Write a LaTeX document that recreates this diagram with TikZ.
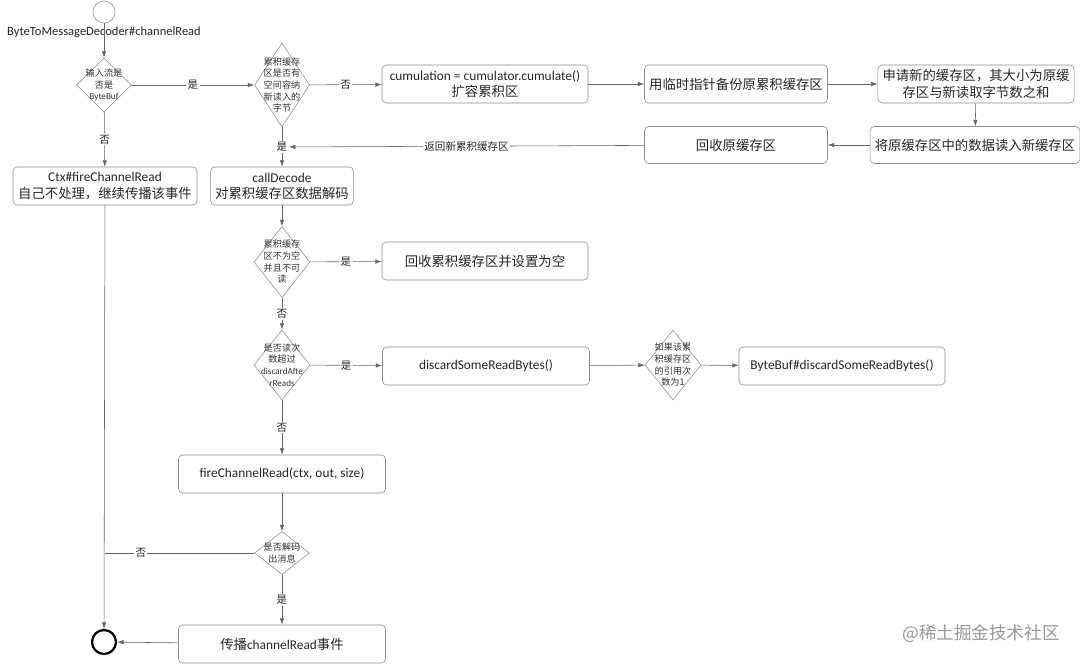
\documentclass[tikz,border=0pt]{standalone}
\usepackage{fontspec}
\setmainfont{Carlito}
\newfontfamily\zhfont{Noto Sans CJK SC}
\newcommand\en[1]{{\rmfamily #1}}
\usetikzlibrary{shapes.geometric,arrows.meta}

\tikzset{
    flow/.style={draw=black!45, rounded corners=3pt, minimum height=9.5mm, align=center,
        font=\zhfont\fontsize{9.5}{11.5}\selectfont, text=black!85},
    dec/.style={draw=black!45, diamond, inner sep=0pt},
    dtxt/.style={align=center, inner sep=0pt, font=\zhfont\fontsize{6.5}{8.3}\selectfont, text=black!80},
    lbl/.style={fill=white, inner sep=1pt, font=\zhfont\fontsize{7.5}{9}\selectfont, text=black!85},
    arr/.style={draw=black!60, -{Latex[length=1.6mm,width=1.1mm]}},
}

\begin{document}
\begin{tikzpicture}[x=0.25mm, y=-0.25mm]
            \useasboundingbox (0, 0) rectangle (1080, 664);
            % left column
            \node[circle, draw=black!45, minimum size=5.5mm, inner sep=0pt] (start) at (104, 12) {};
            \node[font=\fontsize{8.9}{10}\selectfont, text=black!85] (title) at (104, 32) {ByteToMessageDecoder\#channelRead};
            \node[dec, minimum width=13.75mm, minimum height=13.5mm] (d1) at (104, 85) {};
            \node[dtxt] (t1) at (d1) {输入流是\\否是\\\en{ByteBuf}};
            \node[flow, minimum width=46mm] (ctx) at (105, 186) {\en{Ctx\#fireChannelRead}\\自己不处理，继续传播该事件};
            \node[circle, draw=black, line width=1.6pt, minimum size=6mm, inner sep=0pt] (end) at (104, 642) {};

            % middle column
            \node[dec, minimum width=13.75mm, minimum height=21mm] (d2) at (282, 85) {};
            \node[dtxt] (t2) at (d2) {累积缓存\\区是否有\\空间容纳\\新读入的\\字节};
            \node[flow, minimum width=33.25mm] (dec) at (282, 186) {\en{callDecode}\\对累积缓存区数据解码};
            \node[dec, minimum width=14mm, minimum height=17.75mm] (d3) at (282, 262) {};
            \node[dtxt] (t3) at (d3) {累积缓存\\区不为空\\并且不可\\读};
            \node[dec, minimum width=14mm, minimum height=17.5mm] (d4) at (282, 365) {};
            \node[dtxt] (t4) at (d4) {是否读次\\数超过\\\en{discardAfte}\\\en{rReads}};
            \node[flow, minimum width=51.75mm] (fire) at (282, 474) {\en{fireChannelRead(ctx, out, size)}};
            \node[dec, minimum width=13.75mm, minimum height=10.75mm] (d6) at (282, 553) {};
            \node[dtxt] (t6) at (d6) {是否解码\\出消息};
            \node[flow, minimum width=51.75mm] (prop) at (282, 644) {传播\en{channelRead}事件};

            % right part
            \node[flow, minimum width=51.5mm] (cum) at (485, 84) {\en{cumulation = cumulator.cumulate()}\\扩容累积区};
            \node[flow, minimum width=45.75mm] (bak) at (736, 84) {用临时指针备份原累积缓存区};
            \node[flow, minimum width=45.5mm] (alloc) at (976, 84) {申请新的缓存区，其大小为原缓\\存区与新读取字节数之和};
            \node[flow, minimum width=51mm, minimum height=9.25mm] (copy) at (975, 145) {将原缓存区中的数据读入新缓存区};
            \node[flow, minimum width=45.75mm, minimum height=9.25mm] (free) at (736, 145) {回收原缓存区};
            \node[flow, minimum width=51.5mm] (clr) at (485, 261) {回收累积缓存区并设置为空};
            \node[flow, minimum width=51.75mm] (dsc) at (486, 366) {\en{discardSomeReadBytes()}};
            \node[dec, minimum width=14mm, minimum height=17.5mm] (d5) at (673, 365) {};
            \node[dtxt] (t5) at (d5) {如果该累\\积缓存区\\的引用次\\数为1};
            \node[flow, minimum width=51.5mm] (bbd) at (842, 366) {\en{ByteBuf\#discardSomeReadBytes()}};

            \node[text=black!40, font=\zhfont\fontsize{12.5}{14}\selectfont] (mark) at (981, 634) {@稀土掘金技术社区};

            % connectors
            \draw[arr] (start) -- (d1);
            \draw[arr] (d1) -- node[lbl] {是} (d2);
            \draw[arr] (d1) -- node[lbl] {否} (ctx);
            \draw[arr] (ctx) -- (end);
            \draw[arr] (d2) -- node[lbl] {否} (cum);
            \draw[arr] (cum) -- (bak);
            \draw[arr] (bak) -- (alloc);
            \draw[arr] (alloc) -- (copy);
            \draw[arr] (copy) -- (free);
            \draw[arr] (d2) -- node[lbl] (yes2) {是} (dec);
            \draw[arr] (free) -- node[lbl] {返回新累积缓存区} (yes2);
            \draw[arr] (dec) -- (d3);
            \draw[arr] (d3) -- node[lbl] {是} (clr);
            \draw[arr] (d3) -- node[lbl] {否} (d4);
            \draw[arr] (d4) -- node[lbl] {是} (dsc);
            \draw[arr] (dsc) -- (d5);
            \draw[arr] (d5) -- (bbd);
            \draw[arr] (d4) -- node[lbl] {否} (fire);
            \draw[arr] (fire) -- (d6);
            \draw[draw=black!60] (d6.west) -- node[lbl, pos=.76] {否} (d6.west -| ctx);
            \draw[arr] (d6) -- node[lbl] {是} (prop);
            \draw[arr] (prop) -- (end);
        \end{tikzpicture}
\end{document}
